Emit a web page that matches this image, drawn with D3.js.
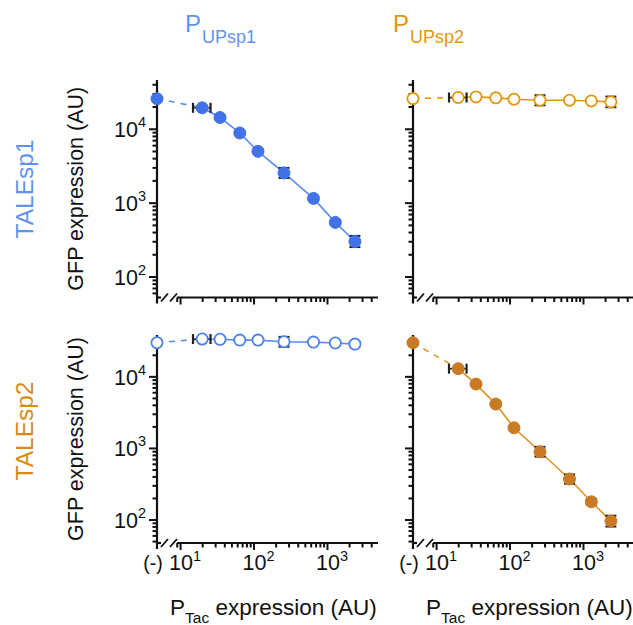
<!DOCTYPE html>
<html><head><meta charset="utf-8">
<script src="https://cdn.jsdelivr.net/npm/d3@7"></script>
<style>body{margin:0;background:#fff}svg{display:block}</style>
</head><body>
<svg id="chart" width="633" height="625"></svg>
<script>
// P_Tac titration levels (AU), shared by all four panels
const tacLevels = [20, 35, 65, 115, 260, 655, 1300, 2400];
// spread of the lowest induced P_Tac level
const tacSpread = [15, 26];
const negLabel = "(-)";

// GFP expression (AU); first entry is the uninduced (-) sample
const gfpTale1Up1 = [25500, 19200, 14200, 8770, 4950, 2520, 1140, 540, 298];
const gfpTale1Up2 = [25600, 26500, 27000, 26200, 25100, 24300, 24300, 23800, 23100];
const gfpTale2Up1 = [29500, 33200, 32900, 32100, 32100, 30400, 30100, 29200, 28200];
const gfpTale2Up2 = [29500, 12800, 7800, 4100, 1910, 885, 368, 177, 95];

// relative error of each GFP value
const errTale1Up1 = [0.05, 0.05, 0.05, 0.05, 0.05, 0.17, 0.05, 0.08, 0.19];
const errTale1Up2 = [0.05, 0.05, 0.05, 0.05, 0.05, 0.17, 0.05, 0.05, 0.18];
const errTale2Up1 = [0.05, 0.05, 0.05, 0.05, 0.05, 0.17, 0.05, 0.05, 0.08];
const errTale2Up2 = [0.05, 0.05, 0.05, 0.05, 0.05, 0.17, 0.16, 0.1, 0.19];

const promoters = ["UPsp1", "UPsp2"];
const tales = ["TALEsp1", "TALEsp2"];
const xMajorExps = [1, 2, 3];
const yMajorExps = [2, 3, 4];

const FONT = "'Liberation Sans', Arial, Helvetica, sans-serif";
const blue = "#4272e8", blueLight = "#5f92f2";
const orange = "#c97a25", orangeLight = "#e3960f";

const svg = d3.select("#chart").style("font-family", FONT);

const cols = [{ axisX: 157 }, { axisX: 413 }];
const rows = [
  { yTop: 80, yBot: 297.5, domain: [52, 45700] },
  { yTop: 335, yBot: 543, domain: [47, 37800] }
];

const panels = [
  { r: 0, c: 0, vals: gfpTale1Up1, errs: errTale1Up1, color: blue, line: "#5a8cf0", filled: true },
  { r: 0, c: 1, vals: gfpTale1Up2, errs: errTale1Up2, color: orangeLight, line: orangeLight, filled: false },
  { r: 1, c: 0, vals: gfpTale2Up1, errs: errTale2Up1, color: "#4f82ee", line: "#5a8cf0", filled: false },
  { r: 1, c: 1, vals: gfpTale2Up2, errs: errTale2Up2, color: orange, line: "#dc9424", filled: true }
];

function minorValues(domain) {
  const out = [];
  for (let k = -1; k <= 6; k++) for (let m = 1; m <= 9; m++) {
    const v = m * Math.pow(10, k);
    if (v >= domain[0] && v <= domain[1]) out.push(v);
  }
  return out;
}

panels.forEach(p => {
  const { axisX } = cols[p.c];
  const row = rows[p.r];
  const g = svg.append("g");

  const x = d3.scaleLog().domain([8.8, 4950]).range([axisX + 19, axisX + 221]);
  const y = d3.scaleLog().domain(row.domain).range([row.yBot, row.yTop]);

  // y axis: minor and major ticks
  const yMinor = minorValues(row.domain).filter(v => !yMajorExps.some(e => Math.abs(v - Math.pow(10, e)) < 1e-9));
  const yMajor = yMajorExps.map(e => Math.pow(10, e));
  const yAxMinor = g.append("g").attr("transform", `translate(${axisX},0)`)
    .call(d3.axisLeft(y).tickValues(yMinor).tickSize(4.5).tickFormat(""));
  const yAxMajor = g.append("g").attr("transform", `translate(${axisX},0)`)
    .call(d3.axisLeft(y).tickValues(yMajor).tickSize(8).tickFormat(""));
  [yAxMinor, yAxMajor].forEach(a => {
    a.select(".domain").remove();
    a.selectAll("line").attr("stroke", "#111").attr("stroke-width", 2);
  });
  g.append("line").attr("x1", axisX).attr("x2", axisX)
    .attr("y1", row.yTop).attr("y2", row.yBot + 6)
    .attr("stroke", "#111").attr("stroke-width", 2.2);

  // x axis with a break between (-) and the log range
  const xMinor = minorValues([8.8, 4950]).filter(v => !xMajorExps.some(e => Math.abs(v - Math.pow(10, e)) < 1e-9));
  const xMajor = xMajorExps.map(e => Math.pow(10, e));
  const xAxMinor = g.append("g").attr("transform", `translate(0,${row.yBot})`)
    .call(d3.axisBottom(x).tickValues(xMinor).tickSize(4.5).tickFormat(""));
  const xAxMajor = g.append("g").attr("transform", `translate(0,${row.yBot})`)
    .call(d3.axisBottom(x).tickValues(xMajor).tickSize(7).tickFormat(""));
  [xAxMinor, xAxMajor].forEach(a => {
    a.select(".domain").remove();
    a.selectAll("line").attr("stroke", "#111").attr("stroke-width", 2);
  });
  const [x0, x1] = x.range();
  g.append("line").attr("x1", x0 + 1).attr("x2", x1).attr("y1", row.yBot).attr("y2", row.yBot)
    .attr("stroke", "#111").attr("stroke-width", 2.2);
  g.append("line").attr("x1", axisX).attr("x2", axisX + 4).attr("y1", row.yBot).attr("y2", row.yBot)
    .attr("stroke", "#111").attr("stroke-width", 2.2);
  [4, 13].forEach(o => {
    g.append("line").attr("x1", axisX + o).attr("y1", row.yBot + 4)
      .attr("x2", axisX + o + 7).attr("y2", row.yBot - 4)
      .attr("stroke", "#111").attr("stroke-width", 1.8);
  });

  // tick labels
  if (p.c === 0) {
    yMajorExps.forEach(e => {
      const t = g.append("text").attr("x", axisX - 11).attr("y", y(Math.pow(10, e)) + 8.5)
        .attr("text-anchor", "end").attr("font-size", 21.5).attr("fill", "#111").text("10");
      t.append("tspan").attr("dy", -10).attr("font-size", 14.5).text(e);
    });
  }
  if (p.r === 1) {
    g.append("text").attr("x", axisX - 4).attr("y", row.yBot + 27)
      .attr("text-anchor", "middle").attr("font-size", 19.5).attr("fill", "#111").text(negLabel);
    xMajorExps.forEach(e => {
      const cx = x(Math.pow(10, e));
      g.append("text").attr("x", cx + 1).attr("y", row.yBot + 27)
        .attr("text-anchor", "middle").attr("font-size", 21.5).attr("fill", "#111").text("10");
      g.append("text").attr("x", cx + 13).attr("y", row.yBot + 18)
        .attr("font-size", 14.5).attr("fill", "#111").text(e);
    });
  }

  // connecting lines
  const pts = p.vals.slice(1).map((v, i) => [x(tacLevels[i]), y(v)]);
  g.append("line").attr("x1", axisX).attr("y1", y(p.vals[0]))
    .attr("x2", pts[0][0]).attr("y2", pts[0][1])
    .attr("stroke", p.line).attr("stroke-width", 1.6).attr("stroke-dasharray", "6,6");
  g.append("path").attr("d", d3.line()(pts)).attr("fill", "none")
    .attr("stroke", p.line).attr("stroke-width", 1.6);

  // error bars
  const allX = [axisX].concat(pts.map(d => d[0]));
  p.vals.forEach((v, i) => {
    const e = p.errs[i];
    const ya = y(v * (1 + e)), yb = y(v / (1 + e)), cx = allX[i];
    g.append("line").attr("x1", cx).attr("x2", cx).attr("y1", ya).attr("y2", yb)
      .attr("stroke", "#222").attr("stroke-width", 1.5);
    [ya, yb].forEach(yy => g.append("line").attr("x1", cx - 5.5).attr("x2", cx + 5.5)
      .attr("y1", yy).attr("y2", yy).attr("stroke", "#222").attr("stroke-width", 2));
  });
  const yy = y(p.vals[1]);
  const xa = x(tacSpread[0]), xb = x(tacSpread[1]);
  g.append("line").attr("x1", xa).attr("x2", xb).attr("y1", yy).attr("y2", yy)
    .attr("stroke", "#222").attr("stroke-width", 1.5);
  [xa, xb].forEach(xx => g.append("line").attr("x1", xx).attr("x2", xx)
    .attr("y1", yy - 5).attr("y2", yy + 5).attr("stroke", "#222").attr("stroke-width", 2.2));

  // markers
  g.selectAll("circle.m").data(p.vals).join("circle").attr("class", "m")
    .attr("cx", (d, i) => allX[i]).attr("cy", d => y(d)).attr("r", p.filled ? 6 : 5.6)
    .attr("fill", p.filled ? p.color : "#fff")
    .attr("stroke", p.color).attr("stroke-width", p.filled ? 1 : 1.8);
});

// column titles
[{ x: 185, c: blueLight, t: promoters[0] }, { x: 393, c: orangeLight, t: promoters[1] }].forEach(d => {
  const t = svg.append("text").attr("x", d.x).attr("y", 31.5).attr("font-size", 24)
    .attr("fill", d.c).text("P");
  t.append("tspan").attr("dy", 11.5).attr("dx", 1).attr("font-size", 18).text(d.t);
});

// row titles
[{ y: 189, c: blueLight, t: tales[0] }, { y: 431, c: "#d98a14", t: tales[1] }].forEach(d => {
  svg.append("text").attr("transform", `translate(33,${d.y}) rotate(-90)`)
    .attr("text-anchor", "middle").attr("font-size", 24.5).attr("fill", d.c).text(d.t);
});

// y axis titles
rows.forEach(r => {
  svg.append("text").attr("transform", `translate(83,${(r.yTop + r.yBot) / 2}) rotate(-90)`)
    .attr("text-anchor", "middle").attr("font-size", 21.5).attr("fill", "#111")
    .text("GFP expression (AU)");
});

// x axis titles
[170, 426].forEach(x0 => {
  const t = svg.append("text").attr("x", x0).attr("y", 615).attr("font-size", 22.5).attr("fill", "#111").text("P");
  t.append("tspan").attr("dy", 8).attr("font-size", 15.5).text("Tac");
  t.append("tspan").attr("dy", -8).text(" expression (AU)");
});
</script>
</body></html>
